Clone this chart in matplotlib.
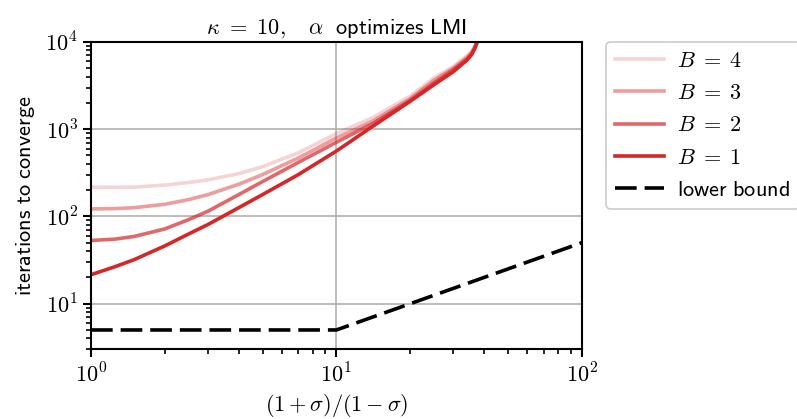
import numpy as np
import matplotlib
matplotlib.use("Agg")
import matplotlib.pyplot as plt
from matplotlib.ticker import FuncFormatter

plt.rcParams['mathtext.fontset'] = 'cm'
plt.rcParams['font.family'] = ['DejaVu Sans']

# ratio (1+sigma)/(1-sigma)
ratio = [1, 1.25, 1.5, 2, 2.5, 3, 4, 5, 7, 10, 14, 20, 25, 30, 34, 35.5, 36.5, 37.5, 38.5]
iters = {
    4: [217, 216, 217, 229, 245, 263, 309, 372, 537, 891, 1350, 2400, 3890, 5250, 6920, 7800, 8700, 10000, 12000],
    3: [122, 123, 126, 138, 156, 178, 234, 302, 468, 794, 1230, 2240, 3630, 5010, 6610, 7500, 8500, 10000, 12000],
    2: [53, 55, 59, 72, 92, 115, 178, 251, 417, 708, 1150, 2140, 3390, 4790, 6310, 7200, 8300, 10000, 12000],
    1: [21.5, 26.5, 32, 46, 63, 81, 126, 178, 302, 562, 1070, 2090, 3240, 4570, 6170, 7100, 8200, 10000, 12000],
}
alphas = {4: 0.2, 3: 0.45, 2: 0.7, 1: 1.0}

lb_ratio = [1, 10, 100]
lb_iters = [5, 5, 50]

fs = 16

fig = plt.figure(figsize=(7.97, 4.19), dpi=100)
ax = fig.add_axes([0.1142, 0.1663, 0.6157, 0.7335])

for B in [4, 3, 2, 1]:
    ax.plot(ratio, iters[B], color='tab:red', alpha=alphas[B], lw=2.6,
            label=r'$B\;=\;%d$' % B)
ax.plot(lb_ratio, lb_iters, 'k', lw=2.6, dashes=(6, 2.2),
        label=r'$\mathsf{lower\ bound}$')

ax.set_xscale('log')
ax.set_yscale('log')
ax.set_xlim(1, 100)
ax.set_ylim(3, 1e4)
dec = FuncFormatter(lambda v, p: r'$10^{%d}$' % round(np.log10(v)))
ax.xaxis.set_major_formatter(dec)
ax.yaxis.set_major_formatter(dec)
ax.grid(True, which='major', color='#b0b0b0', lw=1.2)
ax.set_axisbelow(True)
for s in ax.spines.values():
    s.set_linewidth(1.5)
ax.tick_params(which='major', length=6, width=1.5, labelsize=fs)
ax.tick_params(which='minor', length=3.5, width=1.2)

ax.set_xlabel(r'$(1+\sigma)/(1-\sigma)$', fontsize=fs)
ax.set_ylabel(r'$\mathsf{iterations\ to\ converge}$', fontsize=fs, labelpad=6)
ax.set_title(r'$\kappa\ =\ 10,\ \ \ \alpha\ \ \mathsf{optimizes\ LMI}$', fontsize=fs, pad=6)

leg = ax.legend(loc='upper left', bbox_to_anchor=(1.05, 1.0), fontsize=fs,
                handlelength=2.2, handletextpad=0.6, borderaxespad=0,
                labelspacing=0.55, fancybox=True, framealpha=1,
                edgecolor='#cccccc')
leg.get_frame().set_linewidth(1.2)

fig.savefig('out.png', dpi=100)
